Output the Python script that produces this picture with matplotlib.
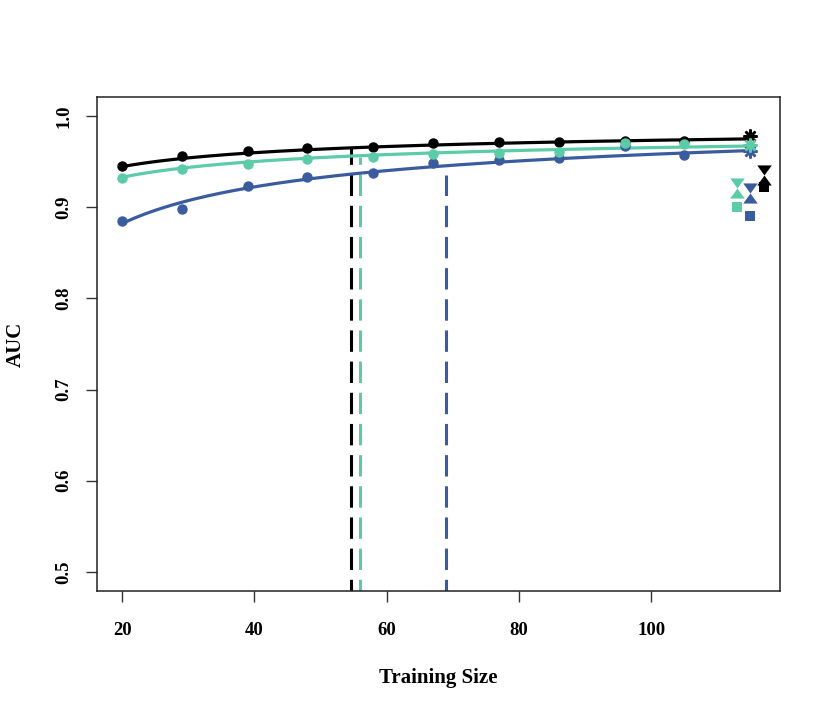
import matplotlib
matplotlib.use("Agg")
import matplotlib.pyplot as plt
import numpy as np
from matplotlib.path import Path

plt.rcParams['font.family'] = ['Liberation Serif', 'DejaVu Serif']
plt.rcParams['font.weight'] = 'bold'

# training sizes and AUC per series
sizes = [20, 29, 39, 48, 58, 67, 77, 86, 96, 105]
auc_black = [0.945, 0.956, 0.962, 0.965, 0.966, 0.970, 0.971, 0.971, 0.9725, 0.973]
auc_teal = [0.932, 0.942, 0.947, 0.953, 0.955, 0.958, 0.959, 0.960, 0.970, 0.969]
auc_blue = [0.885, 0.898, 0.923, 0.933, 0.9375, 0.948, 0.952, 0.954, 0.967, 0.957]

# fitted learning curves AUC = a - b * n^-c
curve_a = {'black': 0.9966, 'teal': 0.9915, 'blue': 1.0193}
curve_b = {'black': 0.2333, 'teal': 0.2625, 'blue': 0.614}
curve_c = {'black': 0.5, 'teal': 0.5, 'blue': 0.5}
curve_end = 115

# extra results at the right edge
extra_x = {'black': 117, 'teal': 113, 'blue': 115}
star_auc = {'black': 0.978, 'teal': 0.968, 'blue': 0.9616}
hour_auc = {'black': 0.9353, 'teal': 0.921, 'blue': 0.9156}
square_auc = {'black': 0.9216, 'teal': 0.8997, 'blue': 0.890}

# vertical dashed markers: training size reached, and AUC height
thresh_x = {'black': 54.6, 'teal': 56.0, 'blue': 69.0}
thresh_auc = {'black': 0.966, 'teal': 0.9555, 'blue': 0.935}

colors = {'black': '#000000', 'teal': '#5CCBA8', 'blue': '#3A5C9E'}
data = {'black': auc_black, 'teal': auc_teal, 'blue': auc_blue}

# down triangle on top of an up triangle, tips touching
hourglass = Path([(-0.72, 1), (0.72, 1), (0, 0), (0.72, -1), (-0.72, -1), (0, 0), (-0.72, 1)],
                 [Path.MOVETO, Path.LINETO, Path.LINETO, Path.LINETO,
                  Path.LINETO, Path.LINETO, Path.CLOSEPOLY])

fig = plt.figure(figsize=(8.3, 7.12), dpi=100)
ax = fig.add_axes([0.1169, 0.1699, 0.8229, 0.6939])

xs = np.linspace(sizes[0], curve_end, 300)
for name in ['black', 'blue', 'teal']:
    col = colors[name]
    fit = curve_a[name] - curve_b[name] * xs ** -curve_c[name]
    ax.plot(xs, fit, color=col, lw=2.3, zorder=3)
    ax.plot(sizes, data[name], 'o', color=col, ms=6.5, zorder=4)
    ax.plot([thresh_x[name]] * 2, [0.4, thresh_auc[name]], color=col, lw=2.2,
            dashes=(7, 3.2), zorder=2)
    ex = extra_x[name]
    ax.plot([curve_end], [star_auc[name]], marker=(8, 2, 0), color=col, ms=10,
            mew=1.8, ls='none', zorder=5)
    ax.plot([ex], [hour_auc[name]], marker=hourglass, color=col, ms=14.5,
            mew=0, ls='none', zorder=5)
    ax.plot([ex], [square_auc[name]], 's', color=col, ms=6.5, mew=0,
            ls='none', zorder=5)

ax.set_xlim(16.2, 119.5)
ax.set_ylim(0.479, 1.0208)
ax.set_xticks([20, 40, 60, 80, 100])
ax.set_yticks([0.5, 0.6, 0.7, 0.8, 0.9, 1.0])
ax.set_yticklabels(['0.5', '0.6', '0.7', '0.8', '0.9', '1.0'], rotation=90,
                   va='center')
ax.tick_params(direction='out', length=8, width=1, labelsize=13.5, pad=14,
               color='#333333')
ax.tick_params(axis='y', pad=10)
for s in ax.spines.values():
    s.set_linewidth(1.1)
    s.set_color('#222222')

ax.set_xlabel('Training Size', fontsize=15, fontweight='bold', labelpad=21)
ax.set_ylabel('AUC', fontsize=15, fontweight='bold', labelpad=21)

fig.savefig('out.png', dpi=100)
